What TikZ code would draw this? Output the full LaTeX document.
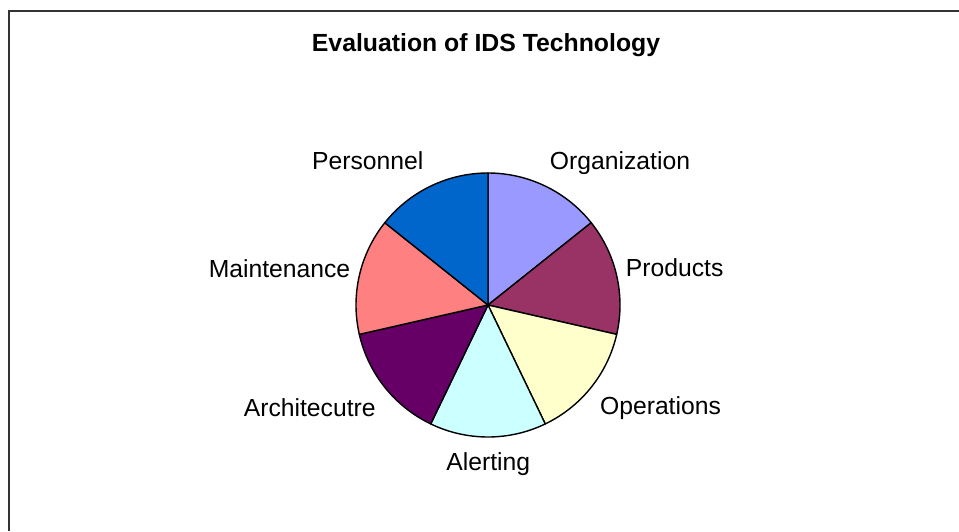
\documentclass[tikz,border=0pt]{standalone}
\usepackage{fontspec}
\setmainfont{Liberation Sans}
\definecolor{cOrg}{HTML}{9999FF}
\definecolor{cProd}{HTML}{993366}
\definecolor{cOps}{HTML}{FFFFCC}
\definecolor{cAlert}{HTML}{CCFFFF}
\definecolor{cArch}{HTML}{660066}
\definecolor{cMaint}{HTML}{FF8080}
\definecolor{cPers}{HTML}{0066CC}
\definecolor{frameGray}{HTML}{333333}
\begin{document}
\begin{tikzpicture}[x=1pt,y=-1pt,
  lbl/.style={anchor=base,inner sep=0pt,font=\fontsize{24.7}{29}\selectfont},
  ttl/.style={anchor=base,inner sep=0pt,font=\fontsize{24.8}{29}\selectfont\bfseries},
  wedge/.style={draw=black,line width=1.4pt,line join=round}]
\useasboundingbox (0,0) rectangle (959,531);
\fill[white] (0,0) rectangle (959,531);
\draw[frameGray,line width=2.4pt] (9,531) -- (9,11) -- (959,11);
\node[ttl] (title) at (486,51.7) {Evaluation of IDS Technology};
\begin{scope}[shift={(488,305)},yscale=-1]
  \coordinate (c) at (0,0);
  \def\R{132}
  \draw[wedge,fill=cOrg]   (c) -- (90:\R) arc[start angle=90,end angle=38.5714,radius=\R] -- cycle;
  \draw[wedge,fill=cProd]  (c) -- (38.5714:\R) arc[start angle=38.5714,end angle=-12.8571,radius=\R] -- cycle;
  \draw[wedge,fill=cOps]   (c) -- (-12.8571:\R) arc[start angle=-12.8571,end angle=-64.2857,radius=\R] -- cycle;
  \draw[wedge,fill=cAlert] (c) -- (-64.2857:\R) arc[start angle=-64.2857,end angle=-115.7143,radius=\R] -- cycle;
  \draw[wedge,fill=cArch]  (c) -- (-115.7143:\R) arc[start angle=-115.7143,end angle=-167.1429,radius=\R] -- cycle;
  \draw[wedge,fill=cMaint] (c) -- (-167.1429:\R) arc[start angle=-167.1429,end angle=-218.5714,radius=\R] -- cycle;
  \draw[wedge,fill=cPers]  (c) -- (-218.5714:\R) arc[start angle=-218.5714,end angle=-270,radius=\R] -- cycle;
\end{scope}
\node[lbl] (org)   at (620,169) {Organization};
\node[lbl] (prod)  at (674.7,276.7) {Products};
\node[lbl] (ops)   at (660.5,414.3) {Operations};
\node[lbl] (alert) at (488.3,470.7) {Alerting};
\node[lbl] (arch)  at (309.7,416.7) {Architecutre};
\node[lbl] (maint) at (279.5,277.3) {Maintenance};
\node[lbl] (pers)  at (367.7,169.3) {Personnel};
\end{tikzpicture}
\end{document}
